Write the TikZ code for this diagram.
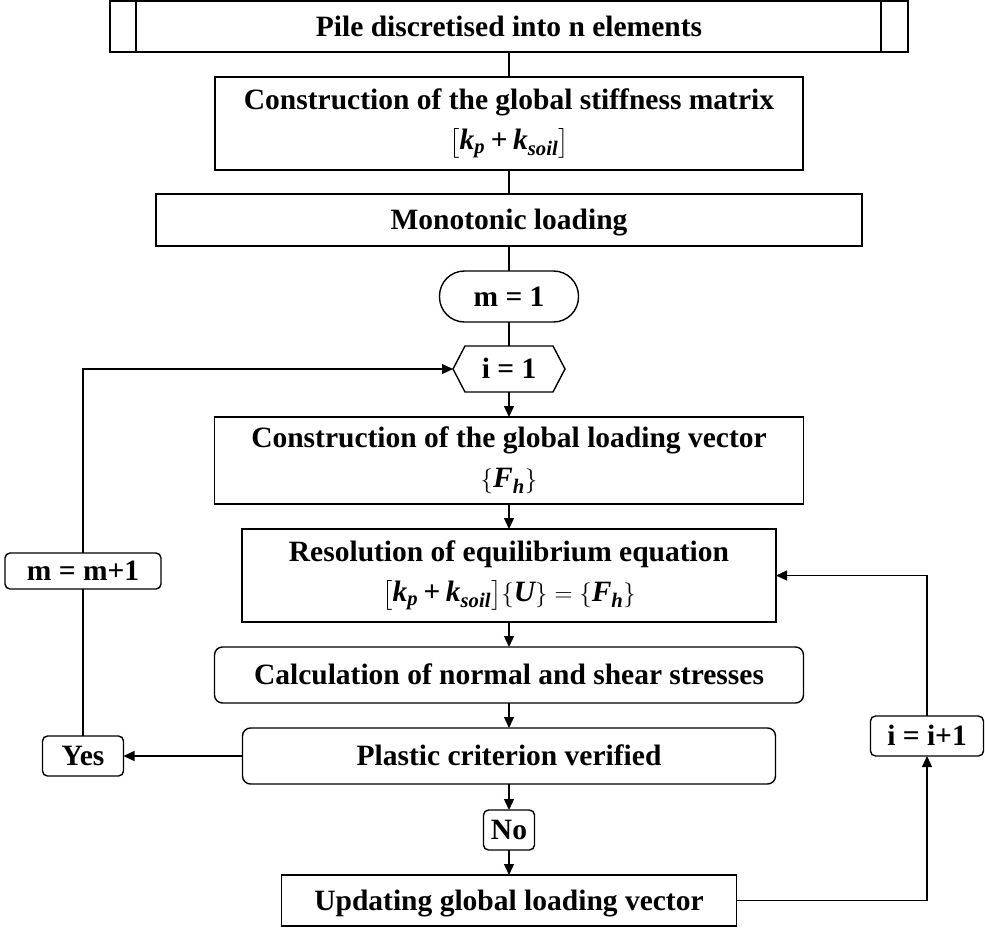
\documentclass[tikz,border=0pt]{standalone}
\usepackage{amsmath}
\usepackage{fontspec}
\setmainfont{Liberation Serif}
\usetikzlibrary{arrows.meta,calc}
\newcommand{\bi}[1]{\text{\bfseries\itshape #1}}
\newcommand{\bplus}{\mathbin{\text{\bfseries +}}}
\begin{document}
\begin{tikzpicture}[x=1pt,y=-1pt,
  box/.style={draw, line width=1.4pt, inner sep=0pt, outer sep=0pt, align=center,
    font=\bfseries\fontsize{29.5}{40}\selectfont},
  rbox/.style={box, rounded corners=8pt},
  sbox/.style={box, rounded corners=5pt},
  conn/.style={line width=1.3pt},
  arr/.style={conn, -{Triangle[length=11pt,width=10pt]}},
  one/.style={text height=20pt, text depth=1pt}
]
\path[use as bounding box] (0,0) rectangle (985,929);

\node[box, line width=1.8pt, minimum width=798pt, minimum height=51pt, one] (top) at (509,26.5) {Pile discretised into n elements};
\draw[line width=1.8pt] ([xshift=26pt]top.north west) -- ([xshift=26pt]top.south west);
\draw[line width=1.8pt] ([xshift=-27pt]top.north east) -- ([xshift=-27pt]top.south east);

\node[box, minimum width=588pt, minimum height=93pt] (stiff) at (509,123.5)
  {Construction of the global stiffness matrix\\ $\bigl[\bi{k}_{\bi{p}}\bplus\bi{k}_{\bi{soil}}\bigr]$};
\node[box, minimum width=706pt, minimum height=52pt, one] (mono) at (509,220) {Monotonic loading};
\node[box, rounded corners=25pt, minimum width=139pt, minimum height=51pt, one] (m1) at (509,296.5) {m = 1};
\node[box, draw=none, minimum width=112pt, minimum height=46pt, one] (i1) at (509,369) {i = 1};
\draw[line width=1.4pt] (i1.west) -- ([xshift=12pt]i1.north west) -- ([xshift=-12pt]i1.north east)
  -- (i1.east) -- ([xshift=-12pt]i1.south east) -- ([xshift=12pt]i1.south west) -- cycle;
\node[box, minimum width=589pt, minimum height=87pt] (load) at (509,460.5)
  {Construction of the global loading vector\\ $\{\bi{F}_{\bi{h}}\}$};
\node[box, minimum width=534pt, minimum height=93pt] (reso) at (509,575.5)
  {Resolution of equilibrium equation\\ $\bigl[\bi{k}_{\bi{p}}\bplus\bi{k}_{\bi{soil}}\bigr]\{\bi{U}\}=\{\bi{F}_{\bi{h}}\}$};
\node[rbox, minimum width=589pt, minimum height=56pt, one] (calc) at (509,675) {Calculation of normal and shear stresses};
\node[rbox, minimum width=533pt, minimum height=56pt, one] (plast) at (509,756) {Plastic criterion verified};
\node[sbox, minimum width=51pt, minimum height=40pt, one] (no) at (509,830) {No};
\node[box, minimum width=455pt, minimum height=51pt, one] (upd) at (509,900.5) {Updating global loading vector};
\node[sbox, minimum width=156pt, minimum height=36pt, one] (mm1) at (83,571) {m = m+1};
\node[sbox, minimum width=81pt, minimum height=40pt, one] (yes) at (83,756) {Yes};
\node[sbox, minimum width=113pt, minimum height=40pt, one] (ii1) at (927,736) {i = i+1};

\draw[conn] (top.south) -- (stiff.north);
\draw[conn] (stiff.south) -- (mono.north);
\draw[conn] (mono.south) -- (m1.north);
\draw[conn] (m1.south) -- (i1.north);
\draw[arr] (i1.south) -- (load.north);
\draw[arr] (load.south) -- (reso.north);
\draw[arr] (reso.south) -- (calc.north);
\draw[arr] (calc.south) -- (plast.north);
\draw[arr] (plast.south) -- (no.north);
\draw[arr] (no.south) -- (upd.north);
\draw[arr] (upd.east) -| (ii1.south);
\draw[arr] (ii1.north) |- (reso.east);
\draw[arr] (plast.west) -- (yes.east);
\draw[conn] (yes.north) -- (mm1.south);
\draw[arr] (mm1.north) |- (i1.west);
\end{tikzpicture}
\end{document}
